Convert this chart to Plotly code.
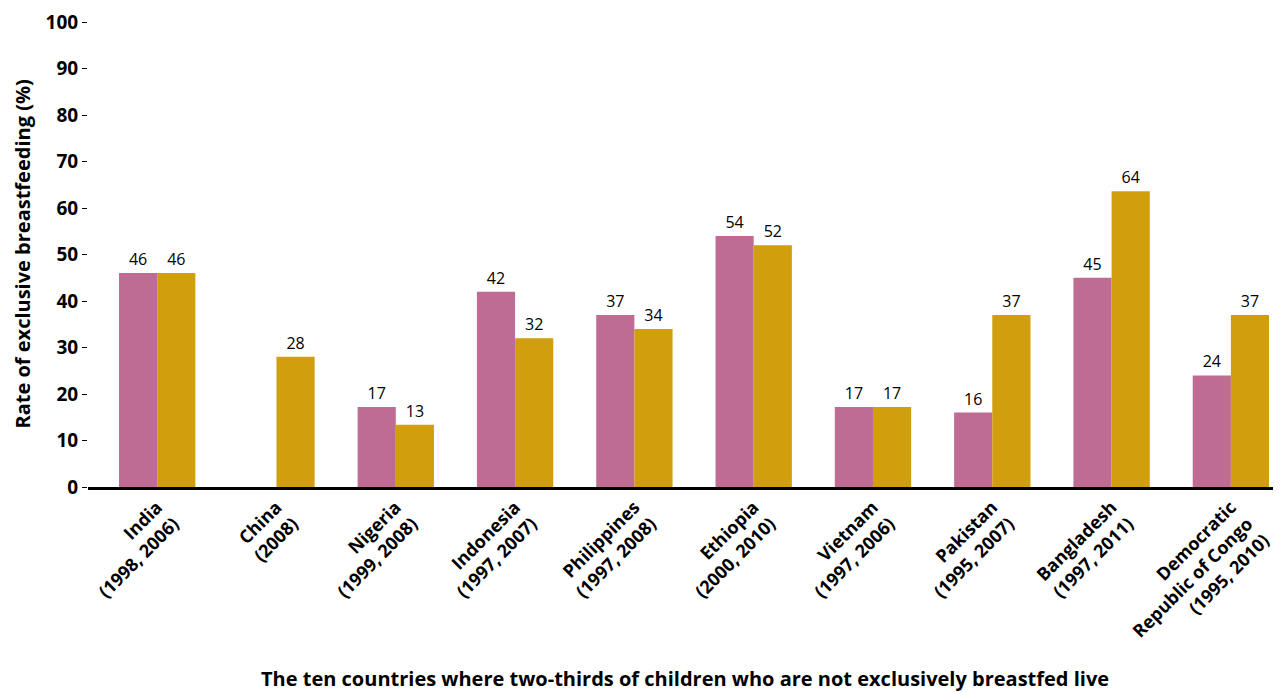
import plotly.graph_objects as go

categories = ["India<br>(1998, 2006)", "China<br>(2008)", "Nigeria<br>(1999, 2008)",
              "Indonesia<br>(1997, 2007)", "Philippines<br>(1997, 2008)", "Ethiopia<br>(2000, 2010)",
              "Vietnam<br>(1997, 2006)", "Pakistan<br>(1995, 2007)", "Bangladesh<br>(1997, 2011)",
              "Democratic<br>Republic of Congo<br>(1995, 2010)"]
earlier = [46, None, 17.2, 42, 37, 54, 17.2, 16, 45, 24]
later = [46, 28, 13.4, 32, 34, 52, 17.2, 37, 63.6, 37]
y_ticks = [0, 10, 20, 30, 40, 50, 60, 70, 80, 90, 100]

FONT = "Open Sans"
x = list(range(len(categories)))

fig = go.Figure()
fig.add_trace(go.Bar(x=x, y=earlier, marker_color="#BF6C94", marker_line_width=0,
                     text=[None if v is None else f"{v:.0f}" for v in earlier],
                     textposition="outside", cliponaxis=False,
                     textfont=dict(family=FONT, size=16, color="black"), name="Earlier"))
fig.add_trace(go.Bar(x=x, y=later, marker_color="#D19E0E", marker_line_width=0,
                     text=[f"{v:.0f}" for v in later],
                     textposition="outside", cliponaxis=False,
                     textfont=dict(family=FONT, size=16, color="black"), name="Later"))

fig.update_layout(
    width=1273, height=685,
    margin=dict(l=80, r=0, t=14, b=206),
    paper_bgcolor="white", plot_bgcolor="white",
    barmode="group", bargap=0.36, bargroupgap=0,
    showlegend=False,
    font=dict(family=FONT, color="black"),
)
fig.update_xaxes(
    tickmode="array", tickvals=x, ticktext=[f"<b>{c}</b>" for c in categories],
    tickangle=-45, tickfont=dict(family=FONT, size=18, color="black"),
    range=[-0.58, 9.42], showgrid=False, zeroline=False,
    showline=True, linecolor="black", linewidth=2.5, ticks="",
)
fig.update_yaxes(
    range=[0, 100], tickvals=y_ticks, ticktext=[f"<b>{t}</b>" for t in y_ticks],
    tickfont=dict(family=FONT, size=19, color="black"),
    ticks="outside", ticklen=5, tickcolor="black", tickwidth=1,
    showgrid=False, zeroline=False, showline=False,
)
fig.add_annotation(text="<b>The ten countries where two-thirds of children who are not exclusively breastfed live</b>",
                   xref="paper", yref="paper", x=0.5, y=-0.412, yanchor="middle", showarrow=False,
                   font=dict(family=FONT, size=20, color="black"))
fig.add_annotation(text="<b>Rate of exclusive breastfeeding (%)</b>",
                   xref="paper", yref="paper", x=-0.0553, y=0.5, xanchor="center", yanchor="middle",
                   textangle=-90, showarrow=False,
                   font=dict(family=FONT, size=20, color="black"))

fig.write_html("out.html")
